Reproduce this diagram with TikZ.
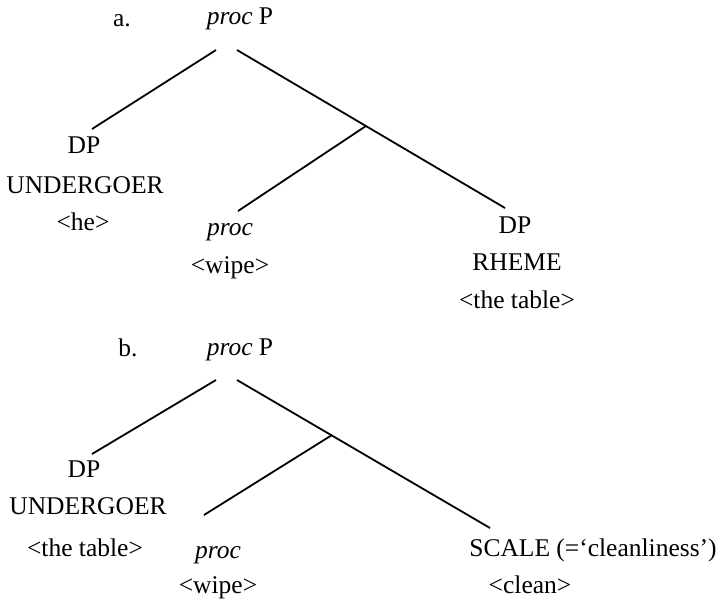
\documentclass[tikz,border=0pt]{standalone}
\usepackage{fontspec}
\setmainfont{Liberation Serif}
\begin{document}
\begin{tikzpicture}[x=1pt,y=-1pt,
  lbl/.style={anchor=base,inner sep=0pt,font=\fontsize{25.5}{30}\selectfont},
  br/.style={line width=1.8pt}]
\useasboundingbox (0,0) rectangle (721,600);
% ---- tree a ----
\node[lbl] (alab) at (122,26) {a.};
\node[lbl] (aP) at (240,24) {\textit{proc} P};
\node[lbl] (aDP) at (84,153) {DP};
\node[lbl] (aU) at (85,193) {UNDERGOER};
\node[lbl] (ahe) at (83,230) {<he>};
\node[lbl] (aproc) at (230,235) {\textit{proc}};
\node[lbl] (awipe) at (230,273) {<wipe>};
\node[lbl] (aDPr) at (515,233) {DP};
\node[lbl] (aRH) at (517,270) {RHEME};
\node[lbl] (atab) at (517,308) {<the table>};
\coordinate (aTL) at (216,50);
\coordinate (aTR) at (237,50);
\coordinate (aJ) at (366,126);
\coordinate (aDPt) at (92,129);
\coordinate (aproct) at (238,211);
\coordinate (aDPrt) at (505,208);
\draw[br] (aTL) -- (aDPt);
\draw[br] (aTR) -- (aDPrt);
\draw[br] (aJ) -- (aproct);
% ---- tree b ----
\node[lbl] (blab) at (128,356) {b.};
\node[lbl] (bP) at (240,355) {\textit{proc} P};
\node[lbl] (bDP) at (84,477) {DP};
\node[lbl] (bU) at (88,514) {UNDERGOER};
\node[lbl] (btab) at (85,556) {<the table>};
\node[lbl] (bproc) at (218,558) {\textit{proc}};
\node[lbl] (bwipe) at (218,593) {<wipe>};
\node[lbl] (bscale) at (593,556) {SCALE (=‘cleanliness’)};
\node[lbl] (bclean) at (530,593) {<clean>};
\coordinate (bTL) at (216,380);
\coordinate (bTR) at (237,380);
\coordinate (bJ) at (332,435);
\coordinate (bDPt) at (92,454);
\coordinate (bproct) at (204,515);
\coordinate (bSt) at (490,528);
\draw[br] (bTL) -- (bDPt);
\draw[br] (bTR) -- (bSt);
\draw[br] (bJ) -- (bproct);
\end{tikzpicture}
\end{document}
